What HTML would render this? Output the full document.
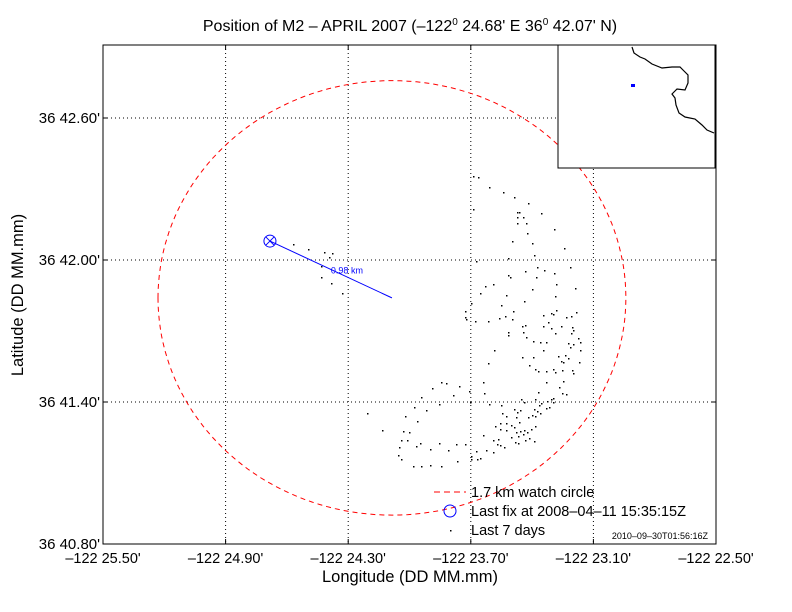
<!DOCTYPE html>
<html><head><meta charset="utf-8"><style>
html,body{margin:0;padding:0;background:#fff;}
svg{display:block;font-family:"Liberation Sans",sans-serif;}
</style></head><body>
<svg id="chart" width="792" height="612" viewBox="0 0 792 612">
<rect width="792" height="612" fill="#fff"/>
<text x="410" y="31" text-anchor="middle" font-size="16">Position of M2 – APRIL 2007 (–122<tspan font-size="10" dy="-6">0</tspan><tspan dy="6"> 24.68' E  36</tspan><tspan font-size="10" dy="-6">0</tspan><tspan dy="6"> 42.07' N)</tspan></text>
<g id="grid"></g>
<g id="circle"></g>
<g id="pts" shape-rendering="crispEdges"></g>
<g id="fix"></g>
<rect x="103" y="45" width="613" height="499" fill="none" stroke="#000"/>
<g id="ticks"></g>
<text x="410" y="582" text-anchor="middle" font-size="16.5">Longitude (DD MM.mm)</text>
<text transform="translate(23,295) rotate(-90)" text-anchor="middle" font-size="16.5">Latitude (DD MM.mm)</text>
<g>
<rect x="558" y="45" width="157" height="123" fill="#fff" stroke="#000"/>
<polyline points="632,47 634,53 640,57 645,59 652,64 662,68 672,67 680,67 683,70 688,75 688,83 685,90 677,89 672,94 675,98 676,105 679,113 685,117 695,119 702,125 707,130 714,133" fill="none" stroke="#000" stroke-width="1.2"/>
<rect x="631" y="84" width="4" height="3" fill="#00f"/>
</g>
<g>
<line x1="434" y1="492" x2="466" y2="492" stroke="#f00" stroke-dasharray="6,4"/>
<text x="471" y="497" font-size="14.5">1.7 km watch circle</text>
<circle cx="450" cy="511" r="6" fill="none" stroke="#00f"/>
<text x="471" y="516" font-size="14.5">Last fix at 2008–04–11 15:35:15Z</text>
<rect x="450" y="530" width="1.5" height="1.5" fill="#000"/>
<text x="471" y="535" font-size="14.5">Last 7 days</text>
<text x="708" y="539" text-anchor="end" font-size="9">2010–09–30T01:56:16Z</text>
</g>
</svg>
<script>
// longitude minutes west of -122 deg, latitude minutes past 36 deg
const lonTicks = [25.50, 24.90, 24.30, 23.70, 23.10, 22.50];
const latTicks = [40.80, 41.40, 42.00, 42.60];
const lonLabels = ["–122 25.50'", "–122 24.90'", "–122 24.30'", "–122 23.70'", "–122 23.10'", "–122 22.50'"];
const latLabels = ["36 40.80'", "36 41.40'", "36 42.00'", "36 42.60'"];
const lastFix = [24.683, 42.080];
const anchorPos = [24.086, 41.840];
const watchRadiusKm = [1.7];
const distLabel = ["0.98 km"];
const ptLon = [23.689,23.664,23.611,23.542,23.488,23.420,23.689,23.474,23.464,23.474,23.444,23.356,23.474,23.429,23.292,23.425,23.498,23.400,23.244,23.390,23.518,23.674,23.214,23.376,23.341,23.434,23.518,23.508,23.381,23.292,23.630,23.591,23.283,23.190,23.400,23.655,23.527,23.288,23.439,23.552,23.699,23.728,23.728,23.723,23.679,23.615,23.562,23.532,23.493,23.498,23.346,23.322,23.307,23.283,23.297,23.234,23.209,23.185,23.449,23.434,23.518,23.518,23.444,23.346,23.307,23.258,23.204,23.199,23.209,23.288,23.175,23.165,23.429,23.395,23.361,23.332,23.224,23.199,23.214,23.346,23.165,23.586,23.395,23.449,23.239,23.273,23.224,23.258,23.248,23.170,23.415,23.615,23.385,23.371,23.332,23.297,23.288,23.253,23.204,23.199,23.640,23.332,23.248,23.845,23.821,23.757,23.890,23.708,23.787,23.635,23.371,23.268,23.253,23.234,23.943,23.855,23.704,23.611,23.552,23.454,23.439,23.385,23.366,23.356,23.327,23.307,23.297,23.297,23.317,23.332,23.978,23.919,23.488,23.459,23.390,23.376,23.361,23.385,24.022,23.547,23.527,23.474,23.478,23.420,23.400,23.963,23.557,23.527,23.503,23.464,24.134,24.031,24.002,23.581,23.557,23.527,23.488,23.478,23.459,23.439,23.425,23.405,23.385,23.640,23.591,23.567,23.503,23.469,23.444,23.434,23.415,23.390,24.041,24.012,23.483,23.469,23.571,23.557,23.537,23.948,23.968,23.855,23.728,23.772,24.051,23.899,23.811,23.625,23.674,23.591,24.056,24.041,23.699,23.699,23.669,23.655,23.767,23.982,23.943,23.899,23.845,24.570,24.496,24.418,24.379,24.394,24.433,24.433,24.384,24.330,24.208];
const ptLat = [42.355,42.351,42.308,42.287,42.266,42.241,42.215,42.203,42.203,42.182,42.182,42.199,42.156,42.156,42.131,42.114,42.080,42.072,42.051,42.021,42.008,41.996,41.970,41.970,41.958,41.954,41.937,41.928,41.928,41.945,41.890,41.899,41.899,41.882,41.877,41.861,41.852,41.848,41.827,41.810,41.818,41.785,41.759,41.751,41.742,41.742,41.755,41.763,41.785,41.751,41.768,41.738,41.776,41.789,41.772,41.759,41.763,41.780,41.721,41.725,41.696,41.683,41.696,41.721,41.713,41.721,41.717,41.704,41.692,41.692,41.670,41.654,41.675,41.658,41.654,41.654,41.649,41.645,41.632,41.620,41.620,41.620,41.590,41.590,41.599,41.594,41.586,41.573,41.569,41.569,41.556,41.565,41.539,41.531,41.531,41.539,41.527,41.535,41.535,41.523,41.485,41.485,41.489,41.485,41.480,41.468,41.459,41.446,41.430,41.438,41.442,41.463,41.438,41.434,41.421,41.392,41.400,41.392,41.387,41.413,41.400,41.413,41.387,41.396,41.404,41.413,41.417,41.400,41.379,41.375,41.379,41.366,41.370,41.366,41.370,41.362,41.353,41.341,41.341,41.353,41.341,41.357,41.336,41.336,41.345,41.319,41.311,41.311,41.302,41.315,41.281,41.277,41.272,41.298,41.285,41.281,41.294,41.272,41.277,41.281,41.272,41.285,41.298,41.260,41.239,41.243,41.251,41.256,41.264,41.239,41.247,41.235,41.239,41.239,41.230,41.226,41.222,41.218,41.209,41.226,41.213,41.226,41.222,41.222,41.209,41.201,41.197,41.197,41.192,41.188,41.175,41.159,41.171,41.159,41.159,41.163,41.150,41.129,41.129,41.133,41.129,42.068,42.046,42.034,42.029,42.012,41.974,41.928,41.903,41.861,41.353];

const NS = "http://www.w3.org/2000/svg";
const X0 = 103, X1 = 716, Y0 = 544, Y1 = 45;
const LON_MIN = 22.50, LON_MAX = 25.50, LAT_MIN = 40.80, LAT_MAX = 40.80 + (Y0 - Y1) / (142 / 0.6);
function xs(lon) { return X0 + (LON_MAX - lon) / (LON_MAX - LON_MIN) * (X1 - X0); }
function ys(lat) { return Y0 - (lat - LAT_MIN) / (LAT_MAX - LAT_MIN) * (Y0 - Y1); }
function mk(tag, attrs, parent) {
  const e = document.createElementNS(NS, tag);
  for (const k in attrs) e.setAttribute(k, attrs[k]);
  parent.appendChild(e);
  return e;
}
const grid = document.getElementById('grid');
const ticks = document.getElementById('ticks');
lonTicks.forEach((v, i) => {
  const x = xs(v);
  if (i > 0 && i < lonTicks.length - 1) {
    const g = mk('line', {x1: x, y1: Y1, x2: x, y2: Y0, stroke: '#000', 'stroke-dasharray': '1,3'}, grid);
    
    
  }
  const t1 = mk('line', {x1: x, y1: Y0, x2: x, y2: Y0 - 5, stroke: '#000'}, ticks);
  
  
  const t2 = mk('line', {x1: x, y1: Y1, x2: x, y2: Y1 + 5, stroke: '#000'}, ticks);
  
  
  const lb = mk('text', {x: x, y: 563, 'text-anchor': 'middle', 'font-size': 14.5}, ticks);
  lb.textContent = lonLabels[i];
  
  
});
latTicks.forEach((v, i) => {
  const y = ys(v);
  if (i > 0) {
    const g = mk('line', {x1: X0, y1: y, x2: X1, y2: y, stroke: '#000', 'stroke-dasharray': '1,3'}, grid);
    
    
  }
  const t1 = mk('line', {x1: X0, y1: y, x2: X0 + 5, y2: y, stroke: '#000'}, ticks);
  
  
  const t2 = mk('line', {x1: X1, y1: y, x2: X1 - 5, y2: y, stroke: '#000'}, ticks);
  
  
  const lb = mk('text', {x: 100, y: y + 5, 'text-anchor': 'end', 'font-size': 15}, ticks);
  lb.textContent = latLabels[i];
  
  
});
// watch circle
const rLat = watchRadiusKm[0] / 1.852;
const rLon = rLat / Math.cos(36.7 * Math.PI / 180);
let d = '';
for (let a = 0; a <= 360; a += 2) {
  const r = a * Math.PI / 180;
  const px = xs(anchorPos[0] + rLon * Math.cos(r));
  const py = ys(anchorPos[1] + rLat * Math.sin(r));
  d += (a === 0 ? 'M' : 'L') + px.toFixed(1) + ',' + py.toFixed(1);
}
const circ = mk('path', {d: d, fill: 'none', stroke: '#f00', 'stroke-dasharray': '5,4'}, document.getElementById('circle'));


// points
const pts = document.getElementById('pts');
ptLon.forEach((lo, i) => {
  const p = mk('rect', {x: Math.round(xs(lo)), y: Math.round(ys(ptLat[i])), width: 1.6, height: 1.6, fill: '#000'}, pts);
  
  
});
// last fix
const fix = document.getElementById('fix');
const fx = xs(lastFix[0]), fy = ys(lastFix[1]);
const ln = mk('line', {x1: fx, y1: fy, x2: xs(anchorPos[0]), y2: ys(anchorPos[1]), stroke: '#00f', 'stroke-width': 1}, fix);


const c = mk('circle', {cx: fx, cy: fy, r: 6, fill: 'none', stroke: '#00f'}, fix);


const xm = mk('path', {d: `M${fx-4},${fy-4}L${fx+4},${fy+4}M${fx-4},${fy+4}L${fx+4},${fy-4}`, stroke: '#00f'}, fix);


const dl = mk('text', {x: (fx + xs(anchorPos[0])) / 2, y: (fy + ys(anchorPos[1])) / 2 + 4, 'font-size': 9, fill: '#00f'}, fix);
dl.textContent = distLabel[0];


</script>
</body></html>
